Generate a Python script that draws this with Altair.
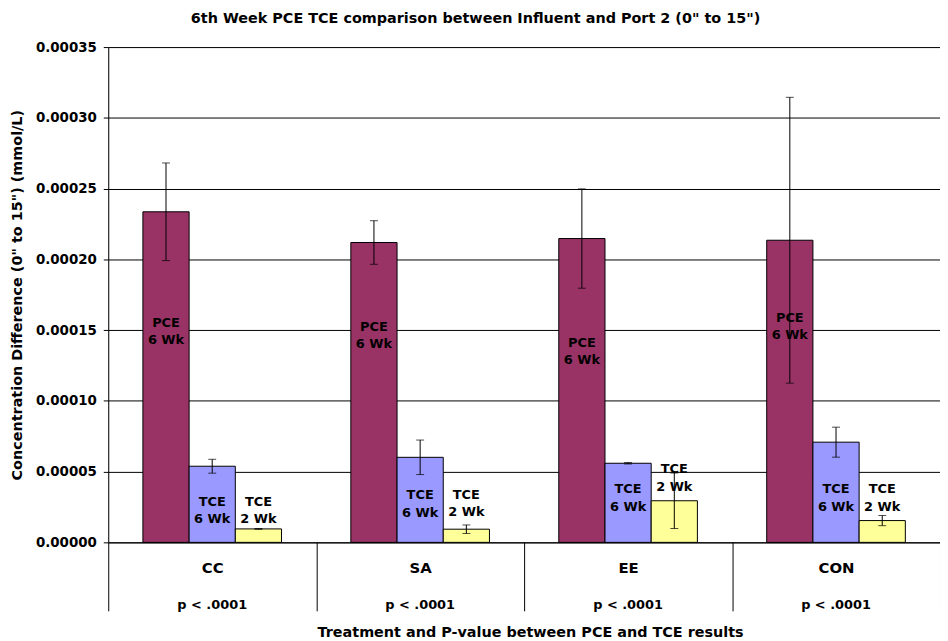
import altair as alt
import pandas as pd

groups = ["CC", "SA", "EE", "CON"]
p_values = ["p < .0001", "p < .0001", "p < .0001", "p < .0001"]
series = ["PCE 6 Wk", "TCE 6 Wk", "TCE 2 Wk"]
series_text = ["PCE\n6 Wk", "TCE\n6 Wk", "TCE\n2 Wk"]
colors = ["#993366", "#9999FF", "#FFFF99"]

pce_6wk = [0.0002336, 0.0002119, 0.0002147, 0.0002135]
pce_6wk_err = [0.0000345, 0.0000154, 0.0000351, 0.0001010]
tce_6wk = [0.0000538, 0.0000601, 0.0000559, 0.0000708]
tce_6wk_err = [0.0000049, 0.0000122, 0.0000005, 0.0000106]
tce_2wk = [0.0000095, 0.0000093, 0.0000294, 0.0000154]
tce_2wk_err = [0.0000003, 0.0000030, 0.0000196, 0.0000036]

# anchor (data units) of the first line of each in-bar text label
pce_label_at = [0.0001552, 0.0001522, 0.0001410, 0.0001587]
tce6_label_at = [0.0000287, 0.0000333, 0.0000375, 0.0000375]
tce2_label_at = [0.0000287, 0.0000338, 0.0000515, 0.0000375]

y_ticks = [0.0, 0.00005, 0.0001, 0.00015, 0.0002, 0.00025, 0.0003, 0.00035]

FONT = "DejaVu Sans"

rows = []
for vals, errs, labs, s, t in [
    (pce_6wk, pce_6wk_err, pce_label_at, series[0], series_text[0]),
    (tce_6wk, tce_6wk_err, tce6_label_at, series[1], series_text[1]),
    (tce_2wk, tce_2wk_err, tce2_label_at, series[2], series_text[2]),
]:
    for g, v, e, la in zip(groups, vals, errs, labs):
        rows.append({"group": g, "series": s, "value": v, "err": e,
                     "label_at": la, "label": t})
df = pd.DataFrame(rows)
df["lo"] = df["value"] - df["err"]
df["hi"] = df["value"] + df["err"]

pdf = pd.DataFrame({"group": groups, "p": p_values})

x_axis = alt.Axis(
    title="Treatment and P-value between PCE and TCE results",
    titleFont=FONT, titleFontSize=14.5, titleFontWeight="bold", titleColor="black",
    titleX=425, titleY=91, titleAlign="center", titleBaseline="middle",
    labelFont=FONT, labelFontSize=15, labelFontWeight="bold", labelColor="black",
    labelAngle=0, labelBaseline="middle", labelPadding=-43.5,
    tickBand="extent", tickSize=69, tickColor="black", tickWidth=1,
    domainColor="black", domainWidth=1, grid=False,
)
y_axis = alt.Axis(
    title='Concentration Difference (0" to 15") (mmol/L)',
    titleFont=FONT, titleFontSize=14.5, titleFontWeight="bold", titleColor="black",
    titleX=-91, titleY=249.5, titleAlign="center", titleBaseline="middle", titleAngle=-90,
    values=y_ticks, format=".5f",
    labelFont=FONT, labelFontSize=13.5, labelFontWeight="bold", labelColor="black",
    labelPadding=7, tickSize=5, tickColor="black", domainColor="black",
    grid=True, gridColor="black", gridWidth=1,
)

X = alt.X("group:N", sort=groups, scale=alt.Scale(paddingInner=0, paddingOuter=0), axis=x_axis)
XO = alt.XOffset("series:N", sort=series, scale=alt.Scale(paddingInner=0, paddingOuter=0.75))
y_scale = alt.Scale(domain=[0, 0.00035], nice=False, zero=True)


def Y(field):
    return alt.Y(field, type="quantitative", scale=y_scale, axis=y_axis)


base = alt.Chart(df)

bars = base.mark_bar(stroke="black", strokeWidth=1).encode(
    x=X, xOffset=XO, y=Y("value"),
    color=alt.Color("series:N", sort=series,
                    scale=alt.Scale(domain=series, range=colors), legend=None),
)
err_rule = base.mark_rule(color="black", strokeWidth=1).encode(
    x=X, xOffset=XO, y=Y("lo"), y2="hi:Q")
cap_hi = base.mark_tick(color="black", size=8, thickness=1).encode(
    x=X, xOffset=XO, y=Y("hi"))
cap_lo = base.mark_tick(color="black", size=8, thickness=1).encode(
    x=X, xOffset=XO, y=Y("lo"))
labels = base.mark_text(font=FONT, fontSize=13, fontWeight="bold", color="black",
                        lineBreak="\n", lineHeight=17.5, baseline="middle",
                        align="center").encode(
    x=X, xOffset=XO, y=Y("label_at"), text="label:N")
pvals = alt.Chart(pdf).mark_text(font=FONT, fontSize=13, fontWeight="bold",
                                 color="black", baseline="middle").encode(
    x=alt.X("group:N", sort=groups, scale=alt.Scale(paddingInner=0, paddingOuter=0), axis=x_axis),
    y=alt.value(562), text="p:N")

chart = alt.layer(bars, err_rule, cap_hi, cap_lo, labels, pvals).properties(
    width=838, height=499,
    autosize=alt.AutoSizeParams(type="none"),
    padding={"left": 101, "top": 37, "right": 0, "bottom": 96},
    title=alt.TitleParams(
        text='6th Week PCE TCE comparison between Influent and Port 2 (0" to 15")',
        font=FONT, fontSize=14.5, fontWeight="bold", color="black",
        anchor="middle", dx=-49, offset=14),
).configure_view(stroke=None).configure(background="white")

chart.save("out.html", embed_options={"renderer": "svg", "actions": False})
